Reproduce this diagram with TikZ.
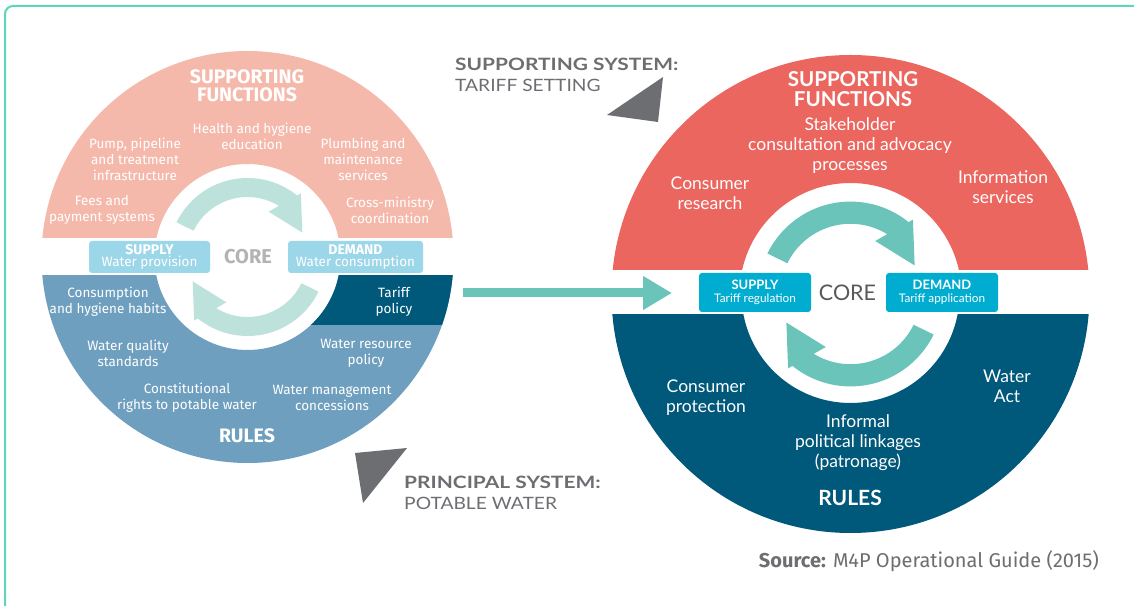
\documentclass[tikz,border=0pt]{standalone}
\usepackage{fontspec}
\usetikzlibrary{arrows.meta}
\newfontfamily\leftfont{Fira Sans}
\newfontfamily\rightfont{Lato}
\newfontfamily\labelfont[FakeStretch=1.13,BoldFeatures={FakeStretch=1.23}]{Lato}
\definecolor{framecol}{HTML}{5ED6BC}
\definecolor{pinkfn}{HTML}{F5B9AC}
\definecolor{bluerule}{HTML}{6F9FBF}
\definecolor{darkrule}{HTML}{00587A}
\definecolor{redfn}{HTML}{EC6660}
\definecolor{paleteal}{HTML}{BDE2DC}
\definecolor{tealarrow}{HTML}{6BC4B9}
\definecolor{lightbox}{HTML}{9CD6E9}
\definecolor{cyanbox}{HTML}{00ADD0}
\definecolor{coregray}{HTML}{B3B3B3}
\definecolor{coredark}{HTML}{58595B}
\definecolor{labelgray}{HTML}{6D6E72}

\begin{document}
\begin{tikzpicture}[x=1pt,y=1pt,
    ltext/.style={text=white,align=center,inner sep=0pt,font=\leftfont\fontsize{13.5}{16}\selectfont},
    lhead/.style={text=white,align=center,inner sep=0pt,font=\leftfont\bfseries\fontsize{19.5}{18.5}\selectfont},
    rtext/.style={text=white,align=center,inner sep=0pt,font=\rightfont\fontsize{17.5}{20}\selectfont},
    rhead/.style={text=white,align=center,inner sep=0pt,font=\rightfont\bfseries\fontsize{20.5}{20.5}\selectfont},
    lbox/.style={fill=lightbox,text=white,rounded corners=3pt,minimum height=32pt,inner sep=0pt,align=center,font=\leftfont\fontsize{13.5}{11.5}\selectfont},
    rbox/.style={fill=cyanbox,text=white,rounded corners=3pt,minimum width=112pt,minimum height=39pt,inner sep=0pt,align=center,font=\rightfont\fontsize{11.8}{13}\selectfont},
    syslabel/.style={text=labelgray,align=left,inner sep=0pt,anchor=west,font=\labelfont\fontsize{17}{21}\selectfont}]
    \useasboundingbox (0,0) rectangle (1134,605);
    \fill[white] (0,0) rectangle (1134,605);
    \draw[framecol,line width=2pt,rounded corners=8pt] (5,-5) -- (5,599) -- (1140,599);

    \coordinate (lc) at (247.5,348);
    \coordinate (rc) at (850.5,311);

    % principal system: potable water
    \begin{scope}
        \clip (0,367) rectangle (500,605);
        \fill[pinkfn,even odd rule] (lc) circle (206) (lc) circle (93);
    \end{scope}
    \begin{scope}
        \clip (0,0) rectangle (500,329);
        \fill[bluerule,even odd rule] (lc) circle (206) (lc) circle (93);
    \end{scope}
    \begin{scope}
        \clip (247.5,280) rectangle (500,329);
        \fill[darkrule,even odd rule] (lc) circle (206) (lc) circle (93);
    \end{scope}
    \begin{scope}[shift={(lc)}]
        \fill[paleteal] (154:79) arc[start angle=154,end angle=50,radius=79]
            -- (50:60) arc[start angle=50,end angle=154,radius=60] -- cycle;
        \fill[paleteal] (65:50) -- (50:83) -- (24:60) -- cycle;
        \fill[paleteal,rotate=180] (154:79) arc[start angle=154,end angle=50,radius=79]
            -- (50:60) arc[start angle=50,end angle=154,radius=60] -- cycle;
        \fill[paleteal,rotate=180] (65:50) -- (50:83) -- (24:60) -- cycle;
    \end{scope}

    \node[lhead] (lfunc) at (247,519.5) {SUPPORTING\\FUNCTIONS};
    \node[ltext] (lhealth) at (252,469) {Health and hygiene\\education};
    \node[ltext] (lpump) at (135,446) {Pump, pipeline\\and treatment\\infrastructure};
    \node[ltext] (lplumb) at (363,446) {Plumbing and\\maintenance\\services};
    \node[ltext] (lfees) at (102,395) {Fees and\\payment systems};
    \node[ltext] (lcross) at (390,395) {Cross-ministry\\coordination};
    \node[lbox,minimum width=121pt] (lsupply) at (149.5,348) {{\bfseries\fontsize{14}{11.5}\selectfont SUPPLY}\\Water provision};
    \node[lbox,minimum width=135pt] (ldemand) at (355.5,348) {{\bfseries\fontsize{14}{11.5}\selectfont DEMAND}\\Water consumption};
    \node[text=coregray,inner sep=0pt,font=\leftfont\bfseries\fontsize{20}{20}\selectfont] (lcore) at (248,348) {CORE};
    \node[ltext] (lhabits) at (108,303) {Consumption\\and hygiene habits};
    \node[ltext] (ltariff) at (394,303) {Tariff\\policy};
    \node[ltext] (lquality) at (128,252) {Water quality\\standards};
    \node[ltext] (lresource) at (366,252) {Water resource\\policy};
    \node[ltext] (lrights) at (187,207) {Constitutional\\rights to potable water};
    \node[ltext] (lconcess) at (332,207) {Water management\\concessions};
    \node[lhead] (lrules) at (247,169) {RULES};

    % supporting system: tariff setting
    \begin{scope}
        \clip (600,335) rectangle (1134,605);
        \fill[redfn,even odd rule] (rc) circle (239) (rc) circle (111);
    \end{scope}
    \begin{scope}
        \clip (600,0) rectangle (1134,290);
        \fill[darkrule,even odd rule] (rc) circle (239) (rc) circle (109);
    \end{scope}
    \begin{scope}[shift={(rc)},scale=1.17]
        \fill[tealarrow] (154:79) arc[start angle=154,end angle=50,radius=79]
            -- (50:60) arc[start angle=50,end angle=154,radius=60] -- cycle;
        \fill[tealarrow] (65:50) -- (50:83) -- (24:60) -- cycle;
        \fill[tealarrow,rotate=180] (154:79) arc[start angle=154,end angle=50,radius=79]
            -- (50:60) arc[start angle=50,end angle=154,radius=60] -- cycle;
        \fill[tealarrow,rotate=180] (65:50) -- (50:83) -- (24:60) -- cycle;
    \end{scope}

    \node[rhead] (rfunc) at (853,516) {SUPPORTING\\FUNCTIONS};
    \node[rtext] (rstake) at (850,459) {Stakeholder\\consultation and advocacy\\processes};
    \node[rtext] (rresearch) at (710,412) {Consumer\\research};
    \node[rtext] (rinfo) at (1003,417.5) {Information\\services};
    \node[rbox] (rsupply) at (755,312.5) {{\bfseries\fontsize{13}{13}\selectfont SUPPLY}\\Tariff regulation};
    \node[rbox] (rdemand) at (942,312.5) {{\bfseries\fontsize{13}{13}\selectfont DEMAND}\\Tariff application};
    \node[text=coredark,inner sep=0pt,font=\rightfont\fontsize{21.5}{22}\selectfont] (rcore) at (847.5,312.5) {CORE};
    \node[rtext] (rprotect) at (706,207) {Consumer\\protection};
    \node[rtext] (ract) at (1007,218.5) {Water\\Act};
    \node[rtext] (rinformal) at (858,162) {Informal\\political linkages\\(patronage)};
    \node[rhead,font=\rightfont\bfseries\fontsize{21}{20}\selectfont] (rrules) at (850,107) {RULES};

    % from the principal system to the supporting system
    \coordinate (arrfrom) at (463,312);
    \coordinate (arrto) at (672,312);
    \draw[tealarrow,line width=9pt,-{Triangle[length=29pt,width=32pt]}] (arrfrom) -- (arrto);

    \fill[labelgray] (607,490) -- (663,528) -- (658,483) -- cycle;
    \fill[labelgray] (355,152) -- (407,157) -- (363,102) -- cycle;
    \node[syslabel] (suplabel) at (455,530.5) {{\bfseries SUPPORTING SYSTEM:}\\TARIFF SETTING};
    \node[syslabel] (prilabel) at (404,112.5) {{\bfseries PRINCIPAL SYSTEM:}\\POTABLE WATER};
    \node[text=labelgray,anchor=east,inner sep=0pt,font=\leftfont\fontsize{20}{20}\selectfont] (source) at (1099,44) {\textbf{Source:} M4P Operational Guide (2015)};
\end{tikzpicture}
\end{document}
